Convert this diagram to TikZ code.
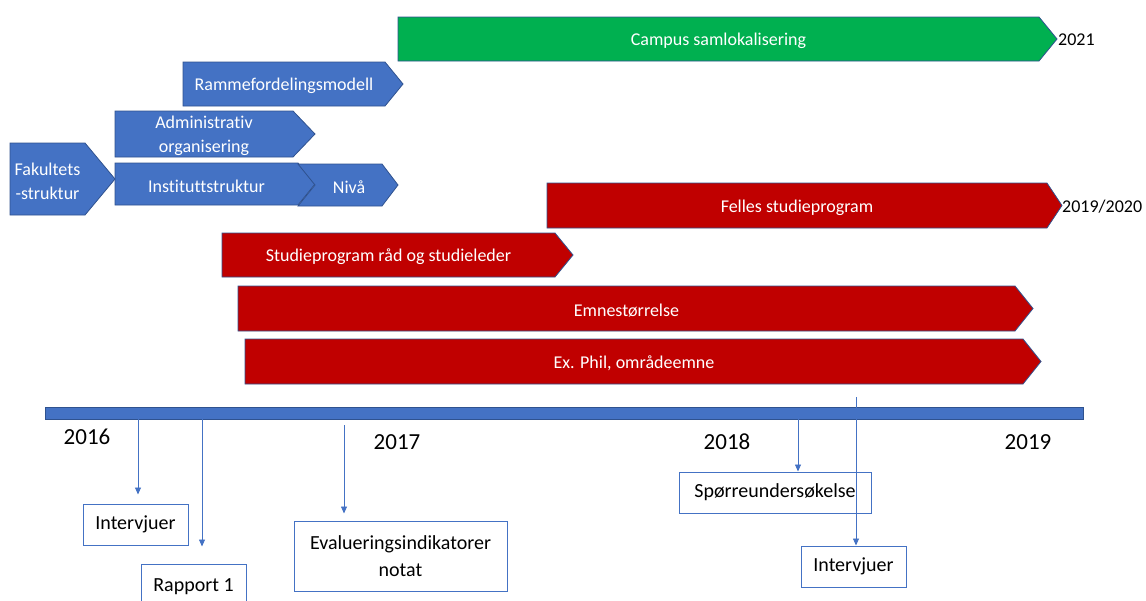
\documentclass[tikz,border=0pt]{standalone}
\usepackage{fontspec}
\setmainfont[Ligatures=NoCommon]{Carlito}
\usetikzlibrary{arrows.meta}
\definecolor{oblue}{HTML}{4472C4}
\definecolor{oline}{HTML}{2F528F}
\definecolor{ored}{HTML}{C00000}
\definecolor{ogreen}{HTML}{00B050}
\tikzset{
  chevline/.style={draw=oline, line width=0.8pt, line join=miter},
  chevtext/.style={text=white, font=\fontsize{18}{24}\selectfont, align=center, inner sep=0pt, yshift=-2pt},
  sidelabel/.style={text=black, font=\fontsize{18}{22}\selectfont, inner sep=0pt, anchor=west},
  yearlabel/.style={text=black, font=\fontsize{23}{27}\selectfont, inner sep=0pt, yshift=-1pt},
  evbox/.style={draw=oblue, line width=1pt, fill=white, font=\fontsize{20}{27}\selectfont, align=center, inner sep=0pt},
  arr/.style={draw=oblue, line width=0.8pt, -{Triangle[width=6pt,length=7pt]}},
}
\newcommand\mychevron[8]{%
  \draw[chevline, fill=#7] (#2,#5) -- (#3,#5) -- (#4,{(#5+#6)/2}) -- (#3,#6) -- (#2,#6) -- cycle;
  \node[chevtext] (#1) at ({(#2+#3)/2},{(#5+#6)/2}) {#8};
}
\begin{document}
\begin{tikzpicture}[x=1pt,y=-1pt]
\useasboundingbox (0,0) rectangle (1146,600);
\clip (0,0) rectangle (1146,600);
% blue chevrons
\mychevron{ramme}{183}{385}{403}{62}{106}{oblue}{Rammefordelingsmodell}
\mychevron{admin}{115}{293}{315}{111}{157}{oblue}{Administrativ\\organisering}
\mychevron{fak}{10}{85}{115}{143}{215}{oblue}{Fakultets\\-struktur}
\mychevron{inst}{115}{298}{315}{163}{205}{oblue}{Instituttstruktur}
\draw[chevline, fill=oblue] (298,164) -- (382,164) -- (398,185) -- (382,206) -- (298,206) -- (315,185) -- cycle;
\node[chevtext] (niva) at (349,185) {Nivå};
% green
\mychevron{campus}{398}{1039}{1057}{17}{61}{ogreen}{Campus samlokalisering}
\node[sidelabel] (y2021) at (1058,40) {2021};
% red chevrons
\mychevron{felles}{547}{1047}{1062}{183}{228}{ored}{Felles studieprogram}
\node[sidelabel] (y2020) at (1062,207) {2019/2020};
\mychevron{studr}{222}{555}{573}{233}{277}{ored}{Studieprogram råd og studieleder}
\mychevron{emne}{238}{1015}{1033}{286}{331}{ored}{Emnestørrelse}
\mychevron{exphil}{245}{1023}{1041}{339}{384}{ored}{Ex. Phil, områdeemne}
% timeline
\draw[fill=oblue, draw=oline, line width=0.6pt] (45,407) rectangle (1083,419);
\node[yearlabel] (y16) at (87,436) {2016};
\node[yearlabel] (y17) at (397,441) {2017};
\node[yearlabel] (y18) at (727,441) {2018};
\node[yearlabel] (y19) at (1028,441) {2019};
% event boxes
\node[evbox, minimum width=105pt, minimum height=41pt] (iv1) at (135.5,524.5) {Intervjuer};
\node[evbox, minimum width=105pt, minimum height=46pt] (rap) at (193.5,587) {Rapport 1};
\node[evbox, minimum width=213pt, minimum height=70pt] (eval) at (400.5,556) {Evalueringsindikatorer\\notat};
\node[evbox, minimum width=192pt, minimum height=41pt] (sporre) at (775,492.5) {Spørreundersøkelse};
\node[evbox, minimum width=105pt, minimum height=41pt] (iv2) at (853.5,566.5) {Intervjuer};
% arrows
\coordinate (s1) at (138,419);
\coordinate (s2) at (202,419);
\coordinate (s3) at (344,425);
\coordinate (s4) at (798,419);
\coordinate (s5) at (856,397);
\draw[arr, shorten >=9pt] (s1) -- (s1 |- iv1.north);
\draw[arr, shorten >=17pt] (s2) -- (s2 |- rap.north);
\draw[arr, shorten >=7pt] (s3) -- (s3 |- eval.north);
\draw[arr] (s4) -- (s4 |- sporre.north);
\draw[arr] (s5) -- (s5 |- iv2.north);
\end{tikzpicture}
\end{document}
